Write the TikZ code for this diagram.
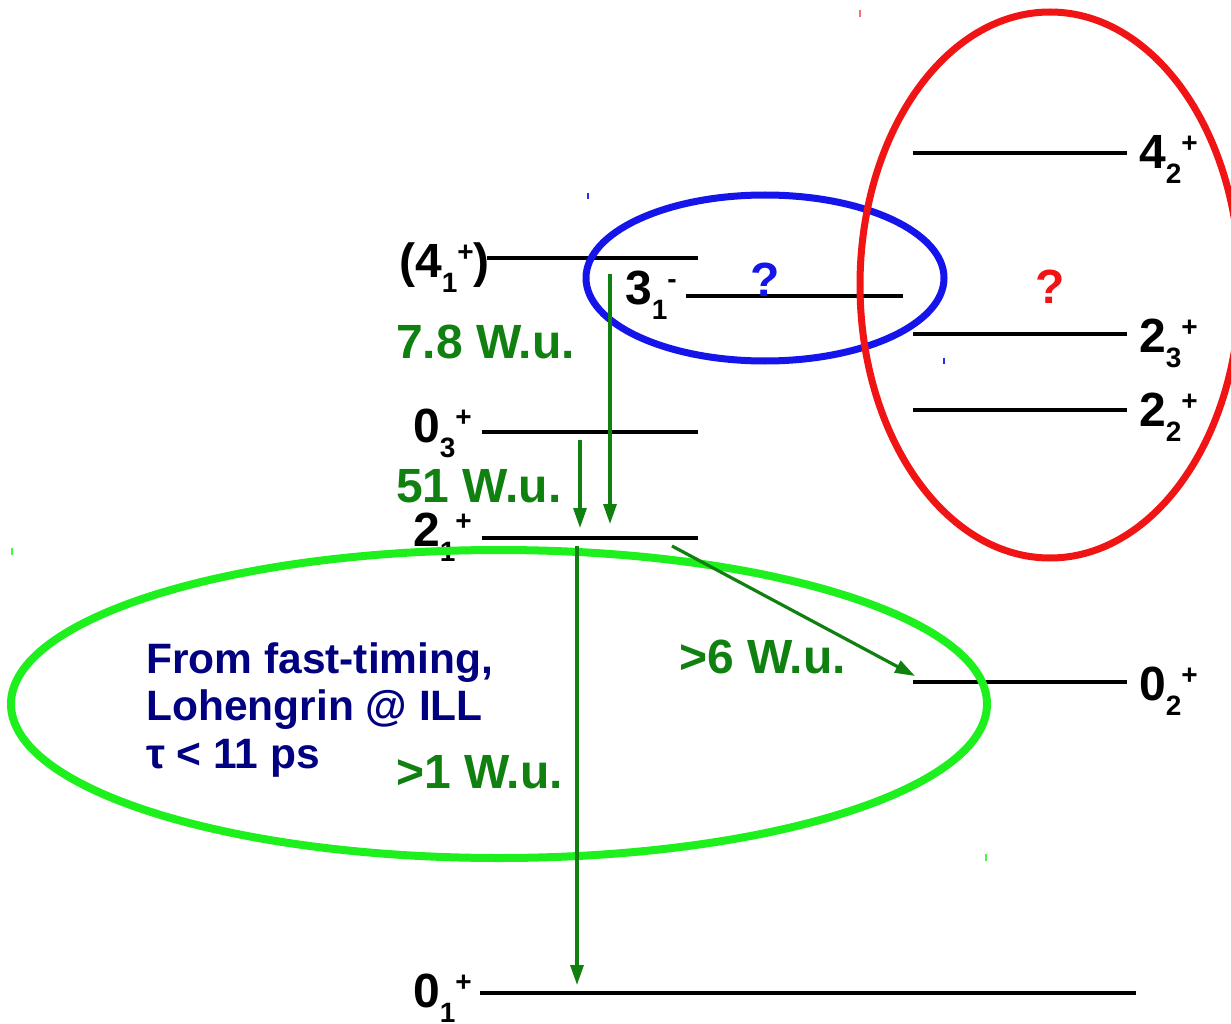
\documentclass[tikz,border=0pt]{standalone}
\usepackage{fontspec}
\setmainfont{Liberation Sans}
\usetikzlibrary{arrows.meta}
\definecolor{lvlgreen}{RGB}{16,128,16}
\definecolor{ringgreen}{RGB}{30,240,30}
\definecolor{ringblue}{RGB}{20,20,235}
\definecolor{ringred}{RGB}{240,20,20}
\definecolor{notenavy}{RGB}{0,0,128}
% level label: value, lowered index, raised parity
\newcommand\levlab[3]{#1\raisebox{-15pt}{\fontsize{28}{28}\selectfont #2}\raisebox{16pt}{\fontsize{28}{28}\selectfont #3}}
\tikzset{
  level/.style={line width=4pt, black},
  trans/.style={draw=lvlgreen, line width=3.2pt, -{Triangle[length=20pt,width=13pt]}},
  lbl/.style={anchor=base west, inner sep=0pt, font=\bfseries\fontsize{48}{48}\selectfont},
  wu/.style={anchor=base west, inner sep=0pt, text=lvlgreen, font=\bfseries\fontsize{48}{48}\selectfont},
  note/.style={anchor=base west, inner sep=0pt, text=notenavy, font=\bfseries\fontsize{42.5}{42.5}\selectfont},
  qmark/.style={inner sep=0pt, font=\bfseries\fontsize{48}{48}\selectfont},
  tick/.style={line width=1.8pt}
}
\begin{document}
\begin{tikzpicture}[x=1pt,y=-1pt]
\useasboundingbox[fill=white] (0,0) rectangle (1231,1024);

% level end points
\coordinate (a41) at (487,258);  \coordinate (b41) at (698,258);
\coordinate (a31) at (686,296);  \coordinate (b31) at (903,296);
\coordinate (a03) at (482,432);  \coordinate (b03) at (698,432);
\coordinate (a21) at (482,538);  \coordinate (b21) at (698,538);
\coordinate (a01) at (480,993);  \coordinate (b01) at (1136,993);
\coordinate (a42) at (913,153);  \coordinate (b42) at (1127,153);
\coordinate (a23) at (913,334);  \coordinate (b23) at (1127,334);
\coordinate (a22) at (913,410);  \coordinate (b22) at (1127,410);
\coordinate (a02) at (913,682);  \coordinate (b02) at (1127,682);

\foreach \l in {41,31,03,21,01,42,23,22,02}
  \draw[level] (a\l) -- (b\l);

% level labels
\node[lbl] (t41) at (399,277) {(\levlab{4}{1}{+})};
\node[lbl] (t31) at (625,305) {\levlab{3}{1}{-}};
\node[lbl] (t03) at (413,442) {\levlab{0}{3}{+}};
\node[lbl] (t21) at (413,546) {\levlab{2}{1}{+}};
\node[lbl] (t01) at (413,1007) {\levlab{0}{1}{+}};
\node[lbl] (t42) at (1139,169) {\levlab{4}{2}{+}};
\node[lbl] (t23) at (1139,352) {\levlab{2}{3}{+}};
\node[lbl] (t22) at (1139,426) {\levlab{2}{2}{+}};
\node[lbl] (t02) at (1139,700) {\levlab{0}{2}{+}};

% strengths
\node[wu] (w78) at (396,358) {7.8 W.u.};
\node[wu] (w51) at (396,502) {51 W.u.};
\node[wu] (w1)  at (396,788) {>1 W.u.};
\node[wu] (w6)  at (679,673) {>6 W.u.};

% note on the lifetime
\node[note] (n1) at (146,673) {From fast-timing,};
\node[note] (n2) at (146,720) {Lohengrin @ ILL};
\node[note] (n3) at (146,768) {τ < 11 ps};

% open questions
\node[qmark, text=ringblue] (qb) at (765,280) {?};
\node[qmark, text=ringred] (qr) at (1050,287) {?};

% groups of levels
\draw[ringblue, line width=7pt] (765,278) ellipse [x radius=179, y radius=83];
\draw[ringred, line width=7pt] (1050,285) ellipse [x radius=190, y radius=273];
\draw[ringgreen, line width=8pt] (499,704) ellipse [x radius=488, y radius=154];

% transitions
\coordinate (s78) at (610,274); \coordinate (e78) at (610,524);
\coordinate (s51) at (580,440); \coordinate (e51) at (580,528);
\coordinate (s1)  at (577,546); \coordinate (e1)  at (577,985);
\coordinate (s6)  at (672,546); \coordinate (e6)  at (915,676);
\draw[trans] (s78) -- (e78);
\draw[trans] (s51) -- (e51);
\draw[trans] (s1) -- (e1);
\draw[trans] (s6) -- (e6);

% corner marks of the rings
\draw[tick, ringred!60] (860,10) -- (860,17);
\draw[tick, ringblue!90] (588,193) -- (588,199);
\draw[tick, ringblue!90] (944,358) -- (944,364);
\draw[tick, ringgreen!80] (12,548) -- (12,555);
\draw[tick, ringgreen!80] (986,854) -- (986,861);
\end{tikzpicture}
\end{document}
